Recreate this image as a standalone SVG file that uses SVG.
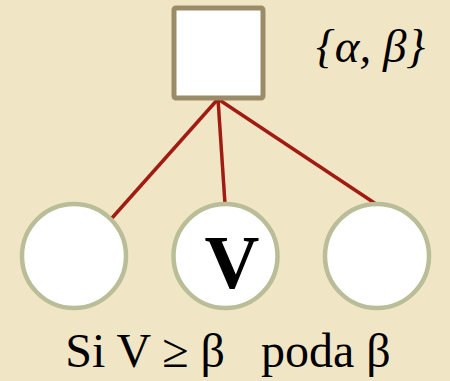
<svg xmlns="http://www.w3.org/2000/svg" width="450" height="381" viewBox="0 0 450 381">
<style>
.bg{fill:#f0e6c6}
.sq{fill:#ffffff;stroke:#9a8b69;stroke-width:5}
.leaf{fill:#ffffff;stroke:#b9bd98;stroke-width:4.5}
.edge{stroke:#a01c12;stroke-width:3.5;fill:none}
.t{font-family:"Liberation Serif","Times New Roman",serif;fill:#000}
</style>
<rect class="bg" x="0" y="0" width="450" height="381"/>
<g id="edges">
<line class="edge" x1="218" y1="99" x2="112" y2="218"/>
<line class="edge" x1="218" y1="99" x2="225" y2="204"/>
<line class="edge" x1="218" y1="99" x2="376" y2="204"/>
</g>
<g id="root">
<rect class="sq" x="174" y="8" width="89" height="90" rx="2"/>
</g>
<text class="t" x="316" y="62" font-size="47" font-style="italic">{α, β}</text>
<g id="leaf1"><circle class="leaf" cx="74" cy="256" r="52"/></g>
<g id="leaf2"><circle class="leaf" cx="225.5" cy="256" r="52"/>
<text class="t" x="232" y="288" font-size="76" font-weight="bold" text-anchor="middle">V</text></g>
<g id="leaf3"><circle class="leaf" cx="377" cy="256" r="52"/></g>
<text class="t" x="228" y="367" font-size="48" text-anchor="middle" xml:space="preserve">Si V ≥ β   poda β</text>
</svg>
